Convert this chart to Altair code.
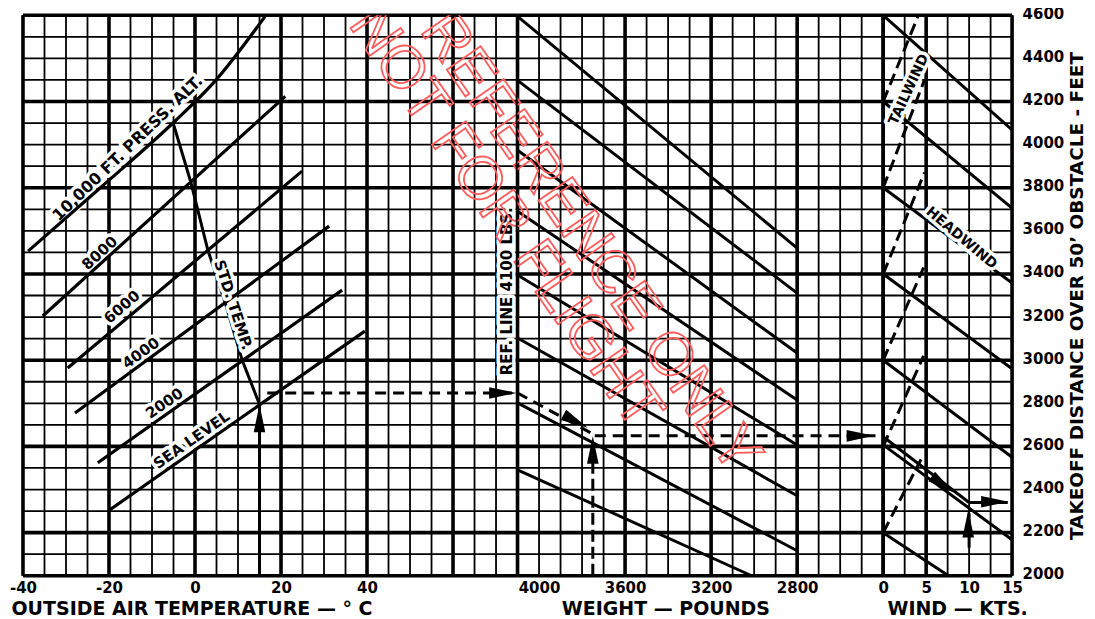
import altair as alt
import pandas as pd

FONT = "DejaVu Sans"
INK = "#000000"
H = 561
W_TEMP, W_WEIGHT, W_WIND = 495, 366, 129
DIST_DOMAIN = [2000, 4600]
TEMP_DOMAIN = [-40, 75]
WEIGHT_DOMAIN = [4100, 2400]
WIND_DOMAIN = [0, 15]

# ---------------- grid ----------------
dist_grid = list(range(2000, 4601, 100))
dist_grid_major = [2000, 2200, 2600, 3000, 3400, 3800, 4200, 4600]
temp_grid = list(range(-40, 76, 5))
temp_grid_major = [-40, -20, 0, 20, 40, 60]
weight_grid = list(range(2400, 4101, 100))
weight_grid_major = [4100, 3600, 3200, 2800, 2400]
wind_grid = [0, 2.5, 5, 7.5, 10, 12.5, 15]
wind_grid_major = [0, 5, 15]

# ---------------- tick labels ----------------
temp_ticks = [-40, -20, 0, 20, 40]
weight_ticks = [4000, 3600, 3200, 2800]
wind_ticks = [0, 5, 10, 15]
dist_ticks = list(range(2000, 4601, 200))

# ---------------- pressure altitude lines (temp, distance) ----------------
press_alt_names = ["SEA LEVEL", "2000", "4000", "6000", "8000", "10000"]
press_alt_temps = [
    [-19.8, 39.5],
    [-22.6, 34.2],
    [-27.9, 31.2],
    [-29.6, 24.9],
    [-35.4, 21.0],
    [-38.8, -22.0, -5.2, 4.8, 16.3],
]
press_alt_dists = [
    [2306, 3135],
    [2524, 3325],
    [2755, 3622],
    [2964, 3877],
    [3205, 4224],
    [3506, 3800, 4099, 4298, 4595],
]
std_temp_t = [15, 11, 7, 3, -1, -5]
std_temp_d = [2795, 2998, 3268, 3510, 3828, 4095]

alt_label_text = ["10,000 FT. PRESS. ALT.", "8000", "6000", "4000", "2000", "SEA LEVEL"]
alt_label_t = [-15.65, -22.15, -17.0, -12.6, -7.1, -0.8]
alt_label_d = [3983, 3497, 3247, 3033, 2800, 2630]
alt_label_angle = [316, 318, 320, 324, 325, 325]
alt_label_size = [16, 15, 15, 15, 15, 15]

# ---------------- weight guide lines (weight, distance) ----------------
weight_line_w = [[4100, 2800]] * 7 + [[4100, 3012]]
weight_line_d = [
    [4595, 3520], [4298, 3311], [3974, 3033], [3691, 2815],
    [3395, 2607], [3103, 2371], [2802, 2116], [2491, 2000],
]

# ---------------- wind guide lines (knots, distance) ----------------
head_line_k = [[0, 15]] * 6 + [[0, 7.6]]
head_line_d = [
    [4600, 4068], [4200, 3705], [3800, 3358], [3400, 2960],
    [3000, 2550], [2607, 2167], [2200, 2000],
]
tail_line_k = [[0, 4.4], [0, 4.7], [0, 4.7], [0, 4.8], [0, 4.8], [0, 4.1]]
tail_line_d = [
    [2200, 2540], [2600, 3020], [3000, 3430], [3400, 3870],
    [3800, 4300], [4200, 4600],
]

# ---------------- worked example ----------------
ex_temp_v_t, ex_temp_v_d = [15, 15], [2000, 2790]
ex_temp_h_t, ex_temp_h_d = [16.8, 74.0], [2848, 2848]
ex_w_diag_w, ex_w_diag_d = [4100, 3741], [2848, 2653]
ex_w_h_w, ex_w_h_d = [3741, 2430], [2650, 2650]
ex_w_v_w, ex_w_v_d = [3750, 3750], [2000, 2630]
ex_k_diag_k, ex_k_diag_d = [0, 10], [2645, 2340]
ex_k_h_k, ex_k_h_d = [10, 14.5], [2340, 2340]
ex_k_v_k, ex_k_v_d = [10, 10], [2130, 2290]

arrow_temp = {"x": [15, 71.6], "d": [2730, 2848], "a": [0, 90]}
arrow_weight = {"x": [3830, 3750, 2506], "d": [2716, 2584, 2649], "a": [118, 0, 90]}
arrow_wind = {"x": [6.94, 13.0, 9.9], "d": [2423, 2343, 2241], "a": [126, 90, 0]}

# watermark (same two lines placed in each panel's own coordinates, clipped per panel)
watermark_text = ["REFERENCE ONLY", "NOT FOR FLIGHT"]
watermark_d = [3543, 3659]
watermark_temp_x = [91.9, 72.2]
watermark_weight_x = [3762, 4156]

ARROW = "M0,-1L0.42,1L-0.42,1Z"

# ---------------- helpers ----------------
def yenc(field="d", axis=None):
    return alt.Y(f"{field}:Q", scale=alt.Scale(domain=DIST_DOMAIN, nice=False, zero=False), axis=axis)


def xaxis(values, title, title_x, align):
    return alt.Axis(
        values=values, grid=False, domain=False, ticks=False, labelFlush=False,
        labelOverlap=False, labelFont=FONT, labelFontWeight="bold", labelFontSize=15,
        labelColor=INK, labelPadding=5, labelExpr="'' + datum.value",
        title=title, titleFont=FONT, titleFontWeight="bold",
        titleFontSize=19, titleColor=INK, titleX=title_x, titleY=24, titleAlign=align,
        titleAnchor="start" if align == "left" else "middle",
    )


temp_axis = xaxis(temp_ticks, "OUTSIDE AIR TEMPERATURE \u2014 \u00b0 C", -12, "left")
weight_axis = xaxis(weight_ticks, "WEIGHT \u2014 POUNDS", 148, "center")
wind_axis = xaxis(wind_ticks, "WIND \u2014 KTS.", 74, "center")
dist_axis = alt.Axis(
    orient="right", values=dist_ticks, grid=False, domain=False, ticks=False,
    labelFont=FONT, labelFontWeight="bold", labelFontSize=15, labelColor=INK,
    labelPadding=10, labelOffset=-2, labelFlush=False, labelOverlap=False,
    labelExpr="'' + datum.value",
    title="TAKEOFF DISTANCE OVER 50\u2019 OBSTACLE - FEET", titleFont=FONT,
    titleFontWeight="bold", titleFontSize=18.5, titleColor=INK, titleAngle=270,
    titleBaseline="top", titlePadding=4,
)


def xenc(domain, axis, field="x"):
    return alt.X(f"{field}:Q", scale=alt.Scale(domain=domain, nice=False, zero=False), axis=axis)


def grid_layers(xs, xs_major, domain, axis, yaxis=None):
    return [
        alt.Chart(pd.DataFrame({"x": xs})).mark_rule(color=INK, strokeWidth=1.8).encode(x=xenc(domain, axis)),
        alt.Chart(pd.DataFrame({"d": dist_grid})).mark_rule(color=INK, strokeWidth=1.8).encode(y=yenc(axis=yaxis)),
        alt.Chart(pd.DataFrame({"x": xs_major})).mark_rule(color=INK, strokeWidth=3.6).encode(x=xenc(domain, axis)),
        alt.Chart(pd.DataFrame({"d": dist_grid_major})).mark_rule(color=INK, strokeWidth=3.6).encode(y=yenc(axis=yaxis)),
    ]


def lines_df(name_list, xs_list, ds_list):
    rows = []
    for n, xs, ds in zip(name_list, xs_list, ds_list):
        for i, (x, d) in enumerate(zip(xs, ds)):
            rows.append({"g": str(n), "i": i, "x": x, "d": d})
    return pd.DataFrame(rows)


def line_layer(df, domain, axis, width=3.0, dash=None, interp="linear", yaxis=None):
    kw = dict(color=INK, strokeWidth=width, interpolate=interp, strokeCap="butt")
    if dash:
        kw["strokeDash"] = dash
    return alt.Chart(df).mark_line(**kw).encode(
        x=xenc(domain, axis), y=yenc(axis=yaxis), detail="g:N", order="i:Q"
    )


def arrow_layer(d, domain, axis, yaxis=None):
    return alt.Chart(pd.DataFrame(d)).mark_point(
        shape=ARROW, filled=True, color=INK, opacity=1, size=760, strokeWidth=0
    ).encode(x=xenc(domain, axis), y=yenc(axis=yaxis), angle=alt.Angle("a:Q", scale=None))


def text_layers(d, domain, axis, size=15, yaxis=None, halo=True, halo_only=False):
    df = pd.DataFrame(d)
    if "s" not in df:
        df["s"] = size
    base = alt.Chart(df)
    enc = dict(x=xenc(domain, axis), y=yenc(axis=yaxis), text="t:N",
               angle=alt.Angle("a:Q", scale=None), size=alt.Size("s:Q", scale=None))
    out = []
    if halo:
        out.append(base.mark_text(font=FONT, fontWeight="bold", color="white",
                                  stroke="white", strokeWidth=7, strokeJoin="round").encode(**enc))
    if not halo_only:
        out.append(base.mark_text(font=FONT, fontWeight="bold", color=INK).encode(**enc))
    return out


def watermark_layer(xs, domain, axis, yaxis=None):
    df = pd.DataFrame({"x": xs, "d": watermark_d, "t": watermark_text, "a": [55, 55]})
    return alt.Chart(df).mark_text(
        font="Liberation Sans", fontSize=60, fillOpacity=0, stroke="#ff5c5c",
        strokeWidth=1.8, clip=True
    ).encode(x=xenc(domain, axis), y=yenc(axis=yaxis), text="t:N", angle=alt.Angle("a:Q", scale=None))


# ---------------- temperature panel ----------------
alt_df = lines_df(press_alt_names, press_alt_temps, press_alt_dists)
alt_labels = {"x": alt_label_t, "d": alt_label_d, "t": alt_label_text, "a": alt_label_angle, "s": alt_label_size}
std_df = lines_df(["std"], [std_temp_t], [std_temp_d])
std_label = {"x": [8.9], "d": [3256], "t": ["STD. TEMP."], "a": [72]}
ref_label = {"x": [72.6], "d": [3320], "t": ["REF. LINE 4100 LBS."], "a": [270]}

temp_layers = grid_layers(temp_grid, temp_grid_major, TEMP_DOMAIN, temp_axis)
temp_layers += text_layers(alt_labels, TEMP_DOMAIN, temp_axis, halo_only=True)
temp_layers += [
    line_layer(alt_df, TEMP_DOMAIN, temp_axis, 3.2, interp="monotone"),
    line_layer(std_df, TEMP_DOMAIN, temp_axis, 3.0),
]
temp_layers += text_layers(alt_labels, TEMP_DOMAIN, temp_axis, halo=False)
temp_layers += text_layers(std_label, TEMP_DOMAIN, temp_axis)
temp_layers += text_layers(ref_label, TEMP_DOMAIN, temp_axis, size=15)
temp_layers += [
    line_layer(lines_df(["v"], [ex_temp_v_t], [ex_temp_v_d]), TEMP_DOMAIN, temp_axis, 3.0),
    line_layer(lines_df(["h"], [ex_temp_h_t], [ex_temp_h_d]), TEMP_DOMAIN, temp_axis, 3.0, dash=[11, 7]),
    arrow_layer(arrow_temp, TEMP_DOMAIN, temp_axis),
    watermark_layer(watermark_temp_x, TEMP_DOMAIN, temp_axis),
]
temp_panel = alt.layer(*temp_layers).properties(width=W_TEMP, height=H)

# ---------------- weight panel ----------------
wl_df = lines_df(list(range(len(weight_line_w))), weight_line_w, weight_line_d)

weight_layers = grid_layers(weight_grid, weight_grid_major, WEIGHT_DOMAIN, weight_axis)
weight_layers += [
    line_layer(wl_df, WEIGHT_DOMAIN, weight_axis, 3.0),
    line_layer(lines_df(["dg"], [ex_w_diag_w], [ex_w_diag_d]), WEIGHT_DOMAIN, weight_axis, 3.0, dash=[11, 7]),
    line_layer(lines_df(["h"], [ex_w_h_w], [ex_w_h_d]), WEIGHT_DOMAIN, weight_axis, 3.0, dash=[11, 7]),
    line_layer(lines_df(["v"], [ex_w_v_w], [ex_w_v_d]), WEIGHT_DOMAIN, weight_axis, 3.0, dash=[12, 5]),
    arrow_layer(arrow_weight, WEIGHT_DOMAIN, weight_axis),
    watermark_layer(watermark_weight_x, WEIGHT_DOMAIN, weight_axis),
]
weight_panel = alt.layer(*weight_layers).properties(width=W_WEIGHT, height=H)

# ---------------- wind panel ----------------
head_df = lines_df(list(range(len(head_line_k))), head_line_k, head_line_d)
tail_df = lines_df(list(range(len(tail_line_k))), tail_line_k, tail_line_d)
wind_labels = {"x": [3.0, 9.1], "d": [4255, 3566], "t": ["TAILWIND", "HEADWIND"], "a": [295, 40]}

wind_layers = grid_layers(wind_grid, wind_grid_major, WIND_DOMAIN, wind_axis, yaxis=dist_axis)
wind_layers += [
    line_layer(head_df, WIND_DOMAIN, wind_axis, 3.0, yaxis=dist_axis),
    line_layer(tail_df, WIND_DOMAIN, wind_axis, 3.0, dash=[12, 6], yaxis=dist_axis),
]
wind_layers += text_layers(wind_labels, WIND_DOMAIN, wind_axis, size=14, yaxis=dist_axis)
wind_layers += [
    line_layer(lines_df(["dg"], [ex_k_diag_k], [ex_k_diag_d]), WIND_DOMAIN, wind_axis, 3.0, yaxis=dist_axis),
    line_layer(lines_df(["h"], [ex_k_h_k], [ex_k_h_d]), WIND_DOMAIN, wind_axis, 3.0, yaxis=dist_axis),
    line_layer(lines_df(["v"], [ex_k_v_k], [ex_k_v_d]), WIND_DOMAIN, wind_axis, 3.0, yaxis=dist_axis),
    arrow_layer(arrow_wind, WIND_DOMAIN, wind_axis, yaxis=dist_axis),
]
wind_panel = alt.layer(*wind_layers).properties(width=W_WIND, height=H)

chart = alt.hconcat(temp_panel, weight_panel, wind_panel, spacing=0, bounds="flush").properties(
    padding={"left": 0, "top": -3, "right": 0, "bottom": 0}
).configure_view(stroke=None).configure(background="white")

chart.save("out.html", embed_options={"renderer": "svg", "actions": False})
